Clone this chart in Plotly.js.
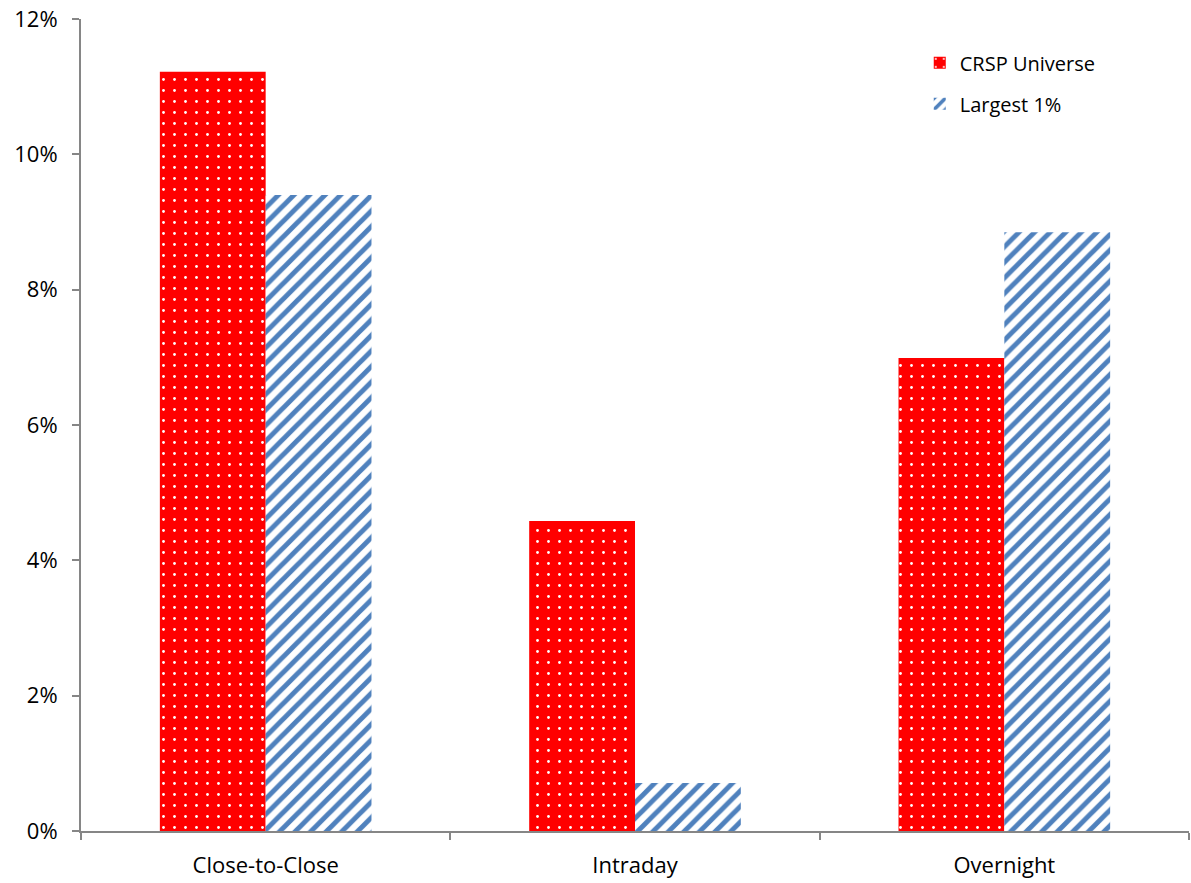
<!DOCTYPE html>
<html><head><meta charset="utf-8">
<script src="https://cdn.plot.ly/plotly-3.0.1.min.js"></script>
<style>body{margin:0;background:#fff}#chart{width:1191px;height:883px}</style>
</head><body><div id="chart"></div>
<script>
const categories = ["Close-to-Close", "Intraday", "Overnight"];
const crspUniverse = [11.22, 4.58, 6.99];
const largest1 = [9.40, 0.71, 8.85];
const seriesNames = ["CRSP Universe", "Largest 1%"];
const yTicks = [0, 2, 4, 6, 8, 10, 12];

const traces = [
  {type:'bar', name:seriesNames[0], x:categories, y:crspUniverse, legendgroup:'a',
   marker:{color:'#FF0000', pattern:{shape:'.', fgcolor:'#FFFFFF', bgcolor:'#FF0000', size:11, solidity:0.05}, line:{width:0}}},
  {type:'bar', name:seriesNames[1], x:categories, y:largest1, legendgroup:'b',
   marker:{color:'#4F81BD', pattern:{shape:'/', fgcolor:'#4F81BD', bgcolor:'#FFFFFF', size:11, solidity:0.45}, line:{width:0}}}
];

const layout = {
  width:1191, height:883,
  margin:{l:81, r:2, t:19, b:52},
  font:{family:'Open Sans, Liberation Sans, sans-serif', size:20, color:'#000'},
  paper_bgcolor:'#fff', plot_bgcolor:'#fff',
  barmode:'group', bargap:0.427, bargroupgap:0,
  showlegend:true,
  legend:{x:0.757, y:0.97, xanchor:'left', yanchor:'top', bgcolor:'rgba(0,0,0,0)', font:{size:20}, tracegroupgap:12, itemwidth:30},
  xaxis:{showline:true, linecolor:'#868686', linewidth:2, ticks:'outside', tickson:'boundaries', ticklen:7, tickcolor:'#868686', tickwidth:2, showgrid:false, zeroline:false, tickfont:{size:22}, ticklabelstandoff:14},
  yaxis:{range:[0,12], tickvals:yTicks, ticktext:yTicks.map(v=>v+'%'), showline:true, linecolor:'#868686', linewidth:2, ticks:'outside', ticklen:7, tickcolor:'#868686', tickwidth:2, showgrid:false, zeroline:false, tickfont:{size:22}, ticklabelstandoff:10}
};
Plotly.newPlot('chart', traces, layout, {displayModeBar:false});
</script></body></html>
